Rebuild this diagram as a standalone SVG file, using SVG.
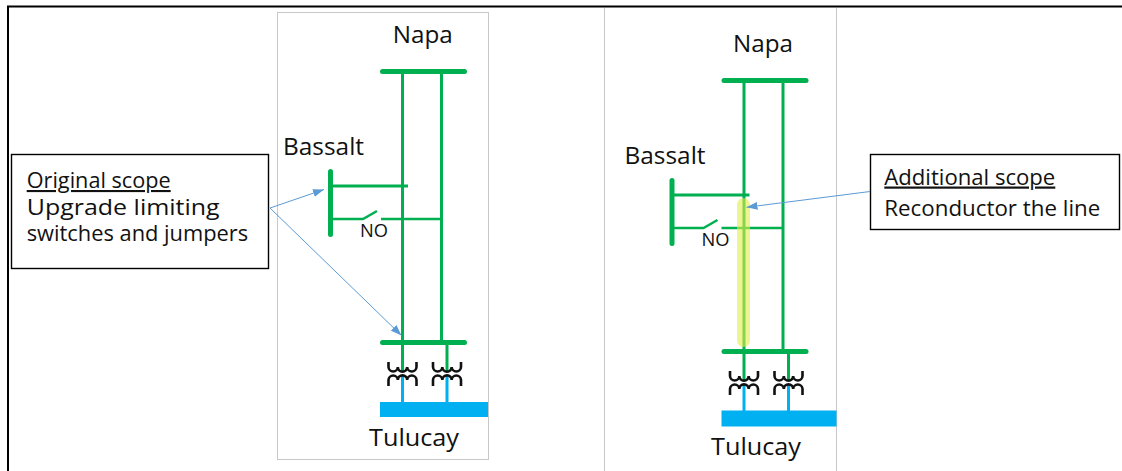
<svg xmlns="http://www.w3.org/2000/svg" width="1122" height="471" viewBox="0 0 1122 471">
<style>
.lbl{font-family:"Open Sans","Liberation Sans",sans-serif;fill:#111}
.big{font-size:24.5px}
.no{font-size:17.5px}
.box{font-size:21px}
.boxr{font-size:22px}
.bus{stroke:#00B050;stroke-width:5;stroke-linecap:round;fill:none}
.ln{stroke:#00B050;stroke-width:3;fill:none}
.sw{stroke:#00B050;stroke-width:2.5;fill:none}
.coil{stroke:#111;stroke-width:2.6;fill:none}
.bl{stroke:#00B0F0;stroke-width:3;fill:none}
.arr{stroke:#5B9BD5;stroke-width:1;fill:none;marker-end:url(#ah)}
.frm{stroke:#000;stroke-width:2;fill:none}
.pnl{stroke:#C8C8C8;stroke-width:1;fill:none}
.tb{stroke:#000;stroke-width:1.4;fill:#fff}
</style>
<defs>
<marker id="ah" markerUnits="userSpaceOnUse" markerWidth="11" markerHeight="8" refX="11" refY="4" orient="auto">
<path d="M0,0 L11,4 L0,8 z" fill="#5B9BD5"/>
</marker>
<g id="xfmr">
<path class="ln" d="M0,-20.5 V8.7"/>
<path class="bl" d="M0,12.5 V39"/>
<path class="coil" d="M-14,-1 V4 A4.67,4.67 0 0 0 -4.67,4 A4.67,4.67 0 0 0 4.67,4 A4.67,4.67 0 0 0 14,4 V-1"/>
<path class="coil" d="M-14,23 V17 A4.67,4.67 0 0 1 -4.67,17 A4.67,4.67 0 0 1 4.67,17 A4.67,4.67 0 0 1 14,17 V23"/>
</g>
</defs>
<rect width="1122" height="471" fill="#fff"/>
<g id="frame">
<path class="frm" d="M8,471 V6.5 H1122"/>
<rect class="pnl" x="277.5" y="12.5" width="211" height="447"/>
<path class="pnl" d="M604.5,8 V471 M836.5,8 V471"/>
</g>

<g id="left-diagram">
<g id="napa-1">
<line class="bus" x1="382.5" y1="71.5" x2="464.5" y2="71.5"/>
<text class="lbl big" x="392.7" y="42.5" textLength="60" lengthAdjust="spacingAndGlyphs">Napa</text>
</g>
<g id="bassalt-1">
<line class="bus" x1="330.5" y1="171.5" x2="330.5" y2="234.5"/>
<text class="lbl big" x="283" y="155" textLength="81" lengthAdjust="spacingAndGlyphs">Bassalt</text>
</g>
<g id="lines-1">
<line class="ln" x1="402.5" y1="71.5" x2="402.5" y2="342.5"/>
<line class="ln" x1="441.5" y1="71.5" x2="441.5" y2="342.5"/>
<line class="ln" x1="330.5" y1="186" x2="408" y2="186"/>
</g>
<g id="switch-1">
<path class="sw" d="M330.5,219 H363 L377,211 M381,219 H441.5"/>
<text class="lbl no" x="360" y="237" textLength="28" lengthAdjust="spacingAndGlyphs">NO</text>
</g>
<g id="bus-low-1">
<line class="bus" x1="382.5" y1="342.5" x2="464.5" y2="342.5"/>
</g>
<g id="xfmr-1a"><use href="#xfmr" x="402.5" y="363"/></g>
<g id="xfmr-1b"><use href="#xfmr" x="447" y="363"/></g>
<g id="tulucay-1">
<rect x="380" y="402" width="108" height="15" fill="#00B0F0"/>
<text class="lbl big" x="369" y="446" textLength="90" lengthAdjust="spacingAndGlyphs">Tulucay</text>
</g>
</g>

<g id="right-diagram" transform="translate(341.5,9)">
<g id="napa-2">
<line class="bus" x1="382.5" y1="71.5" x2="464.5" y2="71.5"/>
<text class="lbl big" x="391.5" y="43" textLength="60" lengthAdjust="spacingAndGlyphs">Napa</text>
</g>
<g id="bassalt-2">
<line class="bus" x1="330.5" y1="171.5" x2="330.5" y2="234.5"/>
<text class="lbl big" x="283" y="155" textLength="81" lengthAdjust="spacingAndGlyphs">Bassalt</text>
</g>
<g id="lines-2">
<line class="ln" x1="402.5" y1="71.5" x2="402.5" y2="342.5"/>
<line class="ln" x1="441.5" y1="71.5" x2="441.5" y2="342.5"/>
<line class="ln" x1="330.5" y1="186" x2="408" y2="186"/>
</g>
<g id="switch-2">
<path class="sw" d="M330.5,219 H362 L376,211 M380,219 H441.5"/>
<text class="lbl no" x="360" y="237" textLength="28" lengthAdjust="spacingAndGlyphs">NO</text>
</g>
<g id="bus-low-2">
<line class="bus" x1="382.5" y1="342.5" x2="464.5" y2="342.5"/>
</g>
<g id="xfmr-2a"><use href="#xfmr" x="402.5" y="363"/></g>
<g id="xfmr-2b"><use href="#xfmr" x="447" y="363"/></g>
<g id="tulucay-2">
<rect x="380" y="401.5" width="115" height="16" fill="#00B0F0"/>
<text class="lbl big" x="369.5" y="446" textLength="90" lengthAdjust="spacingAndGlyphs">Tulucay</text>
</g>
</g>
<g id="highlight">
<rect x="737" y="198" width="13" height="149" rx="6.5" fill="#E3EC48" opacity="0.6"/>
</g>

<g id="box-original">
<rect class="tb" x="11.5" y="154.5" width="257" height="114"/>
<text class="lbl box" x="26.7" y="188" textLength="144" lengthAdjust="spacingAndGlyphs" text-decoration="underline">Original scope</text>
<text class="lbl box" x="26.7" y="214.5" textLength="193" lengthAdjust="spacingAndGlyphs">Upgrade limiting</text>
<text class="lbl box" x="26.7" y="241" textLength="221.5" lengthAdjust="spacingAndGlyphs">switches and jumpers</text>
</g>
<g id="box-additional">
<rect class="tb" x="870.5" y="154.5" width="249" height="75"/>
<text class="lbl boxr" x="884.3" y="184.5" textLength="171" lengthAdjust="spacingAndGlyphs" text-decoration="underline">Additional scope</text>
<text class="lbl boxr" x="884.3" y="216" textLength="216" lengthAdjust="spacingAndGlyphs">Reconductor the line</text>
</g>

<g id="connectors">
<line class="arr" x1="270" y1="208" x2="324" y2="189.5"/>
<line class="arr" x1="270" y1="208" x2="401.5" y2="335.5"/>
<line class="arr" x1="870" y1="191.5" x2="746.5" y2="207.3"/>
</g>
</svg>
